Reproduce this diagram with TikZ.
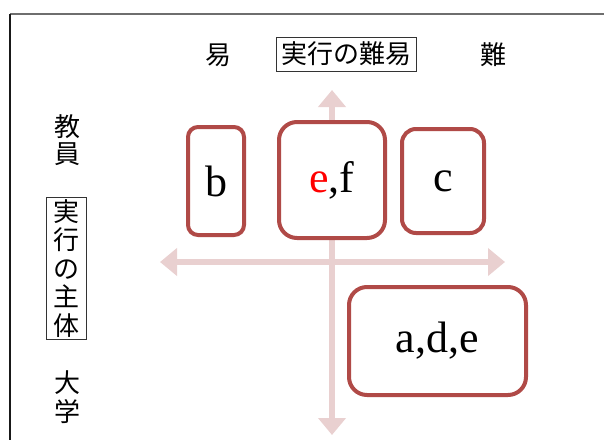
\documentclass[tikz,border=0pt]{standalone}
\usepackage{fontspec}
\setmainfont{Liberation Serif}
\newfontfamily\jpfont{Noto Sans CJK JP}
\usetikzlibrary{arrows.meta}
\definecolor{boxred}{RGB}{176,74,71}
\definecolor{axispink}{RGB}{233,208,208}
\definecolor{framegray}{RGB}{110,110,110}
\begin{document}
\begin{tikzpicture}[x=1pt,y=-1pt,
  cell/.style={draw=boxred, line width=4pt, fill=white, rounded corners=#1,
    font=\fontsize{44}{44}\selectfont, inner sep=0pt},
  axisline/.style={draw=axispink, line width=6pt,
    {Triangle[width=27pt,length=17pt]}-{Triangle[width=27pt,length=17pt]}},
  jp/.style={font=\jpfont\fontsize{26}{26}\selectfont, inner sep=0pt},
  jpstack/.style={font=\jpfont\fontsize{26}{#1}\selectfont, align=center, inner sep=0pt},
  labelbox/.style={draw=black!80, line width=0.9pt}]
\useasboundingbox (0,0) rectangle (604,439);
\clip (0,0) rectangle (604,439);

% frame of the slide area
\draw[framegray, line width=1.4pt] (10,14) -- (640,14);
\draw[black!90, line width=1.4pt] (10,14) -- (10,460);

% axes
\coordinate (xl) at (160,262);
\coordinate (xr) at (505,262);
\coordinate (yt) at (332,90);
\coordinate (yb) at (332,435);
\draw[axisline] (xl) -- (xr);
\draw[axisline] (yb) -- (yt);

% axis titles
\node[jp] (easy) at (218,55) {易};
\node[jp] (hard) at (493,55) {難};
\node[jp, labelbox, inner xsep=5pt, inner ysep=5pt] (diff) at (346,54) {実行の難易};

\node[jpstack=27pt] (teacher) at (67,140) {教\\員};
\node[jpstack=28.5pt, labelbox, inner xsep=7pt, inner ysep=2pt] (subj) at (66.5,268.5) {実\\行\\の\\主\\体};
\node[jpstack=29pt] (univ) at (67,397) {大\\学};

% classified items
\node[cell=10pt, minimum width=56pt, minimum height=108pt] (b) at (216,181) {b};
\node[cell=18pt, minimum width=106pt, minimum height=116pt] (ef) at (332,180) {\textcolor{red}{e},f};
\node[cell=14pt, minimum width=82pt, minimum height=104pt] (c) at (443,181) {c};
\node[cell=18pt, minimum width=177pt, minimum height=108pt] (ade) at (437.5,341) {a,d,e};
\end{tikzpicture}
\end{document}
